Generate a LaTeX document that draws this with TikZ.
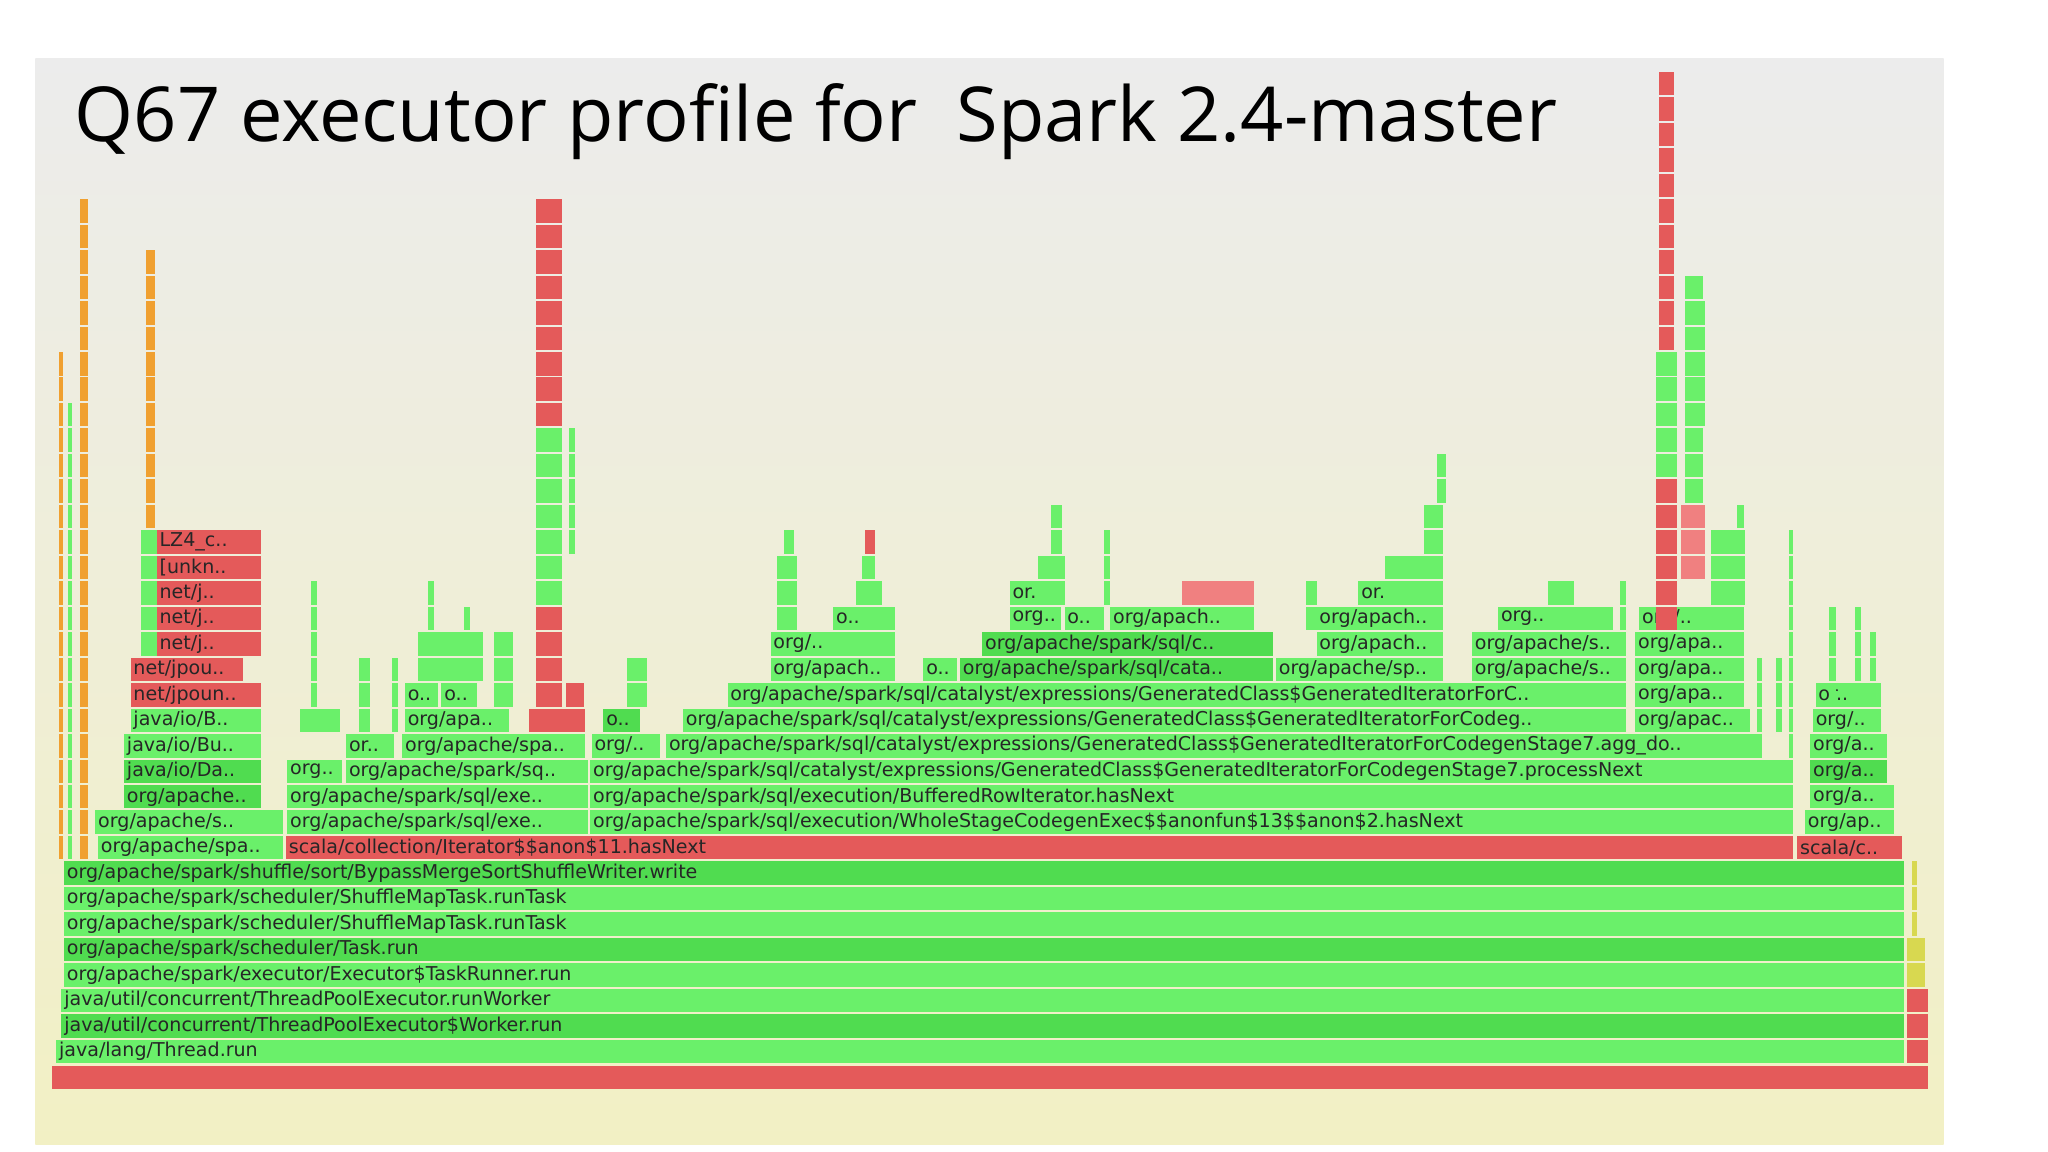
\documentclass[tikz,border=0pt]{standalone}
\usepackage{fontspec}
\setmainfont{Open Sans}
\newfontfamily\labfont{DejaVu Sans}
\definecolor{gA}{HTML}{6AF06A}
\definecolor{gB}{HTML}{50DC50}
\definecolor{rA}{HTML}{E45A5A}
\definecolor{rB}{HTML}{F08080}
\definecolor{oA}{HTML}{F0A030}
\definecolor{yA}{HTML}{D8D850}
\definecolor{bgT}{HTML}{ECECEC}
\definecolor{bgB}{HTML}{F2F0C4}
\tikzset{lab/.style={anchor=west,inner sep=2pt,font=\labfont\fontsize{14.6}{15}\selectfont,text=black!85}}
\newcommand\fr[5]{\fill[#4] (#2,{796-19.5*#1}) rectangle (#3,{814-19.5*#1});
  \node[lab] at (#2,{805-19.5*#1}) {#5};}
\newcommand\spk[5]{\foreach \r in {#3,...,#4}{\fill[#5] (#1,{796-19.5*\r}) rectangle ({#1+#2},{814-19.5*\r});}}
\begin{document}
\begin{tikzpicture}[x=1pt,y=-1pt]
\useasboundingbox (0,0) rectangle (1568,882);
\fill[white] (0,0) rectangle (1568,882);
\shade[top color=bgT,bottom color=bgB] (27,45) rectangle (1488,876);
\node[anchor=base west,inner sep=0,font=\fontsize{58}{62}\selectfont] at (57,108) {Q67 executor profile for\ \ Spark 2.4-master};
% base
\fill[rA] (40,816) rectangle (1476,834);
\fr{0}{43}{1458}{gA}{java/lang/Thread.run}
\fr{1}{47}{1458}{gB}{java/util/concurrent/ThreadPoolExecutor\$Worker.run}
\fr{2}{47}{1458}{gA}{java/util/concurrent/ThreadPoolExecutor.runWorker}
\fr{3}{49}{1458}{gA}{org/apache/spark/executor/Executor\$TaskRunner.run}
\fr{4}{49}{1458}{gB}{org/apache/spark/scheduler/Task.run}
\fr{5}{49}{1458}{gA}{org/apache/spark/scheduler/ShuffleMapTask.runTask}
\fr{6}{49}{1458}{gA}{org/apache/spark/scheduler/ShuffleMapTask.runTask}
\fr{7}{49}{1458}{gB}{org/apache/spark/shuffle/sort/BypassMergeSortShuffleWriter.write}
\spk{1460}{16}{0}{2}{rA}
\spk{1460}{14}{3}{4}{yA}
\spk{1464}{4}{5}{7}{yA}
% row 8
\fr{8}{75}{217}{gA}{org/apache/spa..}
\fr{8}{219}{1373}{rA}{scala/collection/Iterator\$\$anon\$11.hasNext}
\fr{8}{1376}{1456}{rA}{scala/c..}
% row 9
\fr{9}{73}{217}{gA}{org/apache/s..}
\fr{9}{220}{450}{gA}{org/apache/spark/sql/exe..}
\fr{9}{452}{1373}{gA}{org/apache/spark/sql/execution/WholeStageCodegenExec\$\$anonfun\$13\$\$anon\$2.hasNext}
\fr{9}{1382}{1450}{gA}{org/ap..}
% row 10
\fr{10}{95}{200}{gB}{org/apache..}
\fr{10}{220}{450}{gA}{org/apache/spark/sql/exe..}
\fr{10}{452}{1373}{gA}{org/apache/spark/sql/execution/BufferedRowIterator.hasNext}
\fr{10}{1386}{1450}{gA}{org/a..}
% row 11
\fr{11}{95}{200}{gB}{java/io/Da..}
\fr{11}{220}{262}{gA}{org..}
\fr{11}{265}{450}{gA}{org/apache/spark/sq..}
\fr{11}{452}{1373}{gA}{org/apache/spark/sql/catalyst/expressions/GeneratedClass\$GeneratedIteratorForCodegenStage7.processNext}
\fr{11}{1386}{1445}{gB}{org/a..}
% row 12
\fr{12}{95}{200}{gA}{java/io/Bu..}
\fr{12}{265}{302}{gA}{or..}
\fr{12}{308}{448}{gA}{org/apache/spa..}
\fr{12}{453}{505}{gA}{org/..}
\fr{12}{510}{1345}{gA}{org/apache/spark/sql/catalyst/expressions/GeneratedClass\$GeneratedIteratorForCodegenStage7.agg\_do..}
\fr{12}{1386}{1445}{gA}{org/a..}
% row 13
\fr{13}{100}{200}{gA}{java/io/B..}
\fr{13}{310}{390}{gA}{org/apa..}
\fr{13}{405}{448}{rA}{}
\fr{13}{462}{490}{gB}{o..}
\fr{13}{523}{1245}{gA}{org/apache/spark/sql/catalyst/expressions/GeneratedClass\$GeneratedIteratorForCodeg..}
\fr{13}{1252}{1340}{gA}{org/apac..}
\fr{13}{1388}{1440}{gA}{org/..}
% row 14
\fr{14}{100}{200}{rA}{net/jpoun..}
\fr{14}{310}{335}{gA}{o..}
\fr{14}{338}{365}{gA}{o..}
\fr{14}{557}{1245}{gA}{org/apache/spark/sql/catalyst/expressions/GeneratedClass\$GeneratedIteratorForC..}
\fr{14}{1252}{1335}{gA}{org/apa..}
\fr{14}{1390}{1440}{gA}{or..}
% row 15
\fr{15}{100}{185}{rA}{net/jpou..}
\fr{15}{590}{685}{gA}{org/apach..}
\fr{15}{707}{733}{gA}{o..}
\fr{15}{735}{975}{gB}{org/apache/spark/sql/cata..}
\fr{15}{977}{1105}{gA}{org/apache/sp..}
\fr{15}{1127}{1245}{gA}{org/apache/s..}
\fr{15}{1252}{1335}{gA}{org/apa..}
% row 16
\fr{16}{120}{200}{rA}{net/j..}
\fr{16}{590}{685}{gA}{org/..}
\fr{16}{752}{975}{gB}{org/apache/spark/sql/c..}
\fr{16}{1008}{1105}{gA}{org/apach..}
\fr{16}{1127}{1245}{gA}{org/apache/s..}
\fr{16}{1252}{1335}{gA}{org/apa..}
% row 17
\fr{17}{120}{200}{rA}{net/j..}
\fr{17}{638}{685}{gA}{o..}
\fr{17}{773}{812}{gA}{org..}
\fr{17}{815}{845}{gA}{o..}
\fr{17}{850}{960}{gA}{org/apach..}
\fr{17}{1008}{1105}{gA}{org/apach..}
\fr{17}{1147}{1235}{gA}{org..}
\fr{17}{1255}{1335}{gA}{org/..}
% row 18
\fr{18}{120}{200}{rA}{net/j..}
\fr{18}{773}{815}{gA}{or..}
\fr{18}{905}{960}{rB}{}
\fr{18}{1040}{1085}{gA}{or..}
% row 19,20
\fr{19}{120}{200}{rA}{[unkn..}
\fr{20}{120}{200}{rA}{LZ4\_c..}
% spikes
\spk{45}{3}{8}{27}{oA}
\spk{52}{3}{8}{25}{gA}
\spk{61}{6}{8}{33}{oA}
\spk{112}{7}{21}{31}{oA}
\spk{108}{12}{16}{20}{gA}
\spk{183}{3}{14}{20}{rA}
\spk{410}{20}{14}{17}{rA}
\spk{410}{20}{18}{24}{gA}
\spk{410}{20}{25}{33}{rA}
\spk{433}{14}{14}{14}{rA}
\spk{436}{4}{20}{24}{gA}
\spk{238}{5}{13}{18}{gA}
\spk{230}{30}{13}{13}{gA}
\spk{275}{8}{13}{15}{gA}
\spk{300}{5}{13}{15}{gA}
\spk{320}{50}{15}{16}{gA}
\spk{328}{4}{16}{18}{gA}
\spk{355}{5}{16}{17}{gA}
\spk{378}{15}{14}{16}{gA}
\spk{480}{15}{14}{15}{gA}
\spk{595}{15}{17}{19}{gA}
\spk{600}{8}{20}{20}{gA}
\spk{655}{20}{18}{18}{gA}
\spk{660}{10}{19}{19}{gA}
\spk{662}{8}{20}{20}{rA}
\spk{795}{20}{18}{19}{gA}
\spk{805}{8}{20}{21}{gA}
\spk{845}{5}{18}{20}{gA}
\spk{1000}{8}{17}{18}{gA}
\spk{1060}{45}{18}{19}{gA}
\spk{1090}{15}{20}{21}{gA}
\spk{1100}{7}{22}{23}{gA}
\spk{1185}{20}{18}{18}{gA}
\spk{1240}{5}{15}{18}{gA}
\spk{1268}{16}{17}{20}{rA}
\spk{1268}{16}{21}{22}{rA}
\spk{1268}{16}{23}{27}{gA}
\spk{1270}{12}{28}{38}{rA}
\spk{1278}{4}{37}{38}{rA}
\spk{1287}{18}{19}{21}{rB}
\spk{1290}{14}{22}{30}{gA}
\spk{1300}{5}{25}{29}{gA}
\spk{1310}{26}{18}{20}{gA}
\spk{1330}{5}{21}{21}{gA}
\spk{1345}{4}{12}{15}{gA}
\spk{1360}{4}{13}{15}{gA}
\spk{1370}{3}{9}{20}{gA}
\spk{1400}{6}{14}{17}{gA}
\spk{1420}{5}{14}{17}{gA}
\spk{1432}{4}{14}{16}{gA}
\end{tikzpicture}
\end{document}
